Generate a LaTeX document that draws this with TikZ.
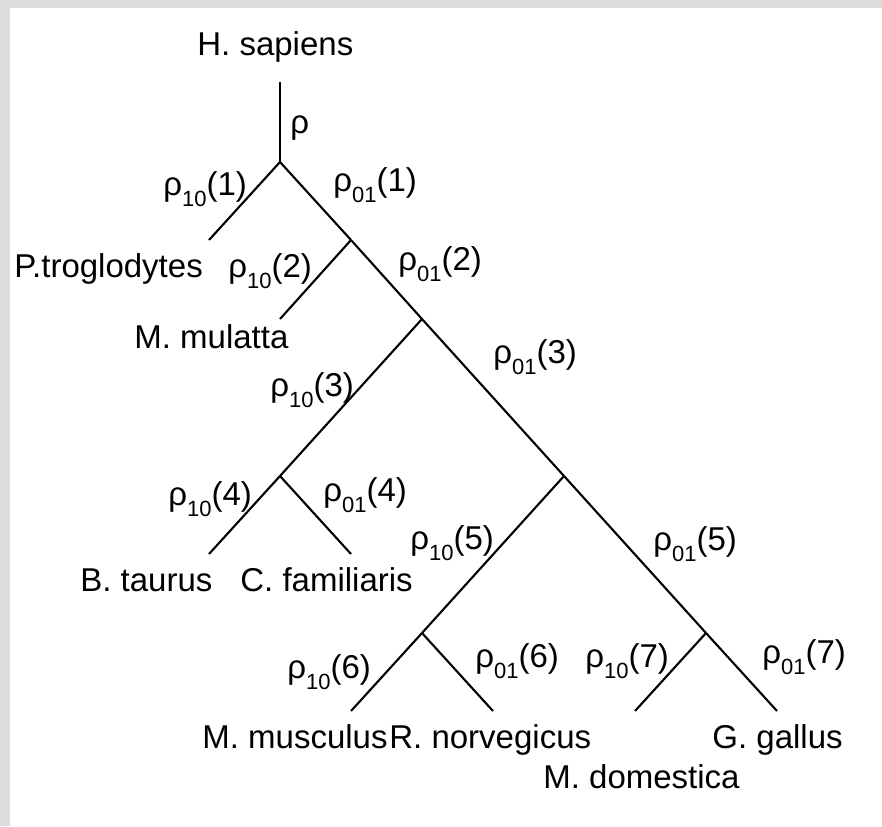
\documentclass[tikz,border=0pt]{standalone}
\usepackage{fontspec}
\setmainfont{Liberation Sans}
\usetikzlibrary{positioning}
\definecolor{framegray}{RGB}{220,220,220}
\newcommand{\rlab}[2]{ρ\raisebox{-5.5pt}{\fontsize{11}{13}\selectfont #1}(#2)}

\begin{document}
\begin{tikzpicture}[
      x=0.5pt, y=-0.5pt,
      branch/.style={line width=1.05pt},
      taxon/.style={anchor=base west, inner sep=0pt, font=\fontsize{16.5}{20}\selectfont},
      rate/.style={anchor=base west, inner sep=0pt, font=\fontsize{16.5}{20}\selectfont}
    ]
    \fill[framegray] (0,0) rectangle (882,826);
    \fill[white] (10,8) rectangle (882,826);

    \coordinate (top) at (280,82);
    \coordinate (n1) at (280,162);
    \coordinate (ptro) at (209,240);
    \coordinate (n2) at (351,240);
    \coordinate (mmul) at (280,319);
    \coordinate (n3) at (422,319);
    \coordinate (n4) at (280,476);
    \coordinate (btau) at (209,554);
    \coordinate (cfam) at (351,554);
    \coordinate (n5) at (564,476);
    \coordinate (n6) at (422,633);
    \coordinate (mmus) at (351,711);
    \coordinate (rnor) at (493,711);
    \coordinate (n7) at (706,633);
    \coordinate (mdom) at (635,711);
    \coordinate (ggal) at (777,711);

    \draw[branch] (top) -- (n1);
    \draw[branch] (n1) -- (ptro);
    \draw[branch] (n1) -- (n2);
    \draw[branch] (n2) -- (mmul);
    \draw[branch] (n2) -- (n3);
    \draw[branch] (n3) -- (n4);
    \draw[branch] (n3) -- (n5);
    \draw[branch] (n4) -- (btau);
    \draw[branch] (n4) -- (cfam);
    \draw[branch] (n5) -- (n6);
    \draw[branch] (n5) -- (n7);
    \draw[branch] (n6) -- (mmus);
    \draw[branch] (n6) -- (rnor);
    \draw[branch] (n7) -- (mdom);
    \draw[branch] (n7) -- (ggal);

    \node[taxon] (hsap) at (197,55) {H. sapiens};
    \node[taxon] (ptrolabel) at (14,277) {P.troglodytes};
    \node[taxon] (mmullabel) at (134,348) {M. mulatta};
    \node[taxon] (btaulabel) at (80,591) {B. taurus};
    \node[taxon] (cfamlabel) at (240,591) {C. familiaris};
    \node[taxon] (mmuslabel) at (202,748) {M. musculus};
    \node[taxon] (rnorlabel) at (389,748) {R. norvegicus};
    \node[taxon] (ggallabel) at (712,748) {G. gallus};
    \node[taxon] (mdomlabel) at (543,788) {M. domestica};

    \node[rate] (r0) at (290,133) {ρ};
    \node[rate] (r10a) at (163,195) {\rlab{10}{1}};
    \node[rate] (r01a) at (333,191) {\rlab{01}{1}};
    \node[rate] (r10b) at (228,277) {\rlab{10}{2}};
    \node[rate] (r01b) at (398,270) {\rlab{01}{2}};
    \node[rate] (r10c) at (270,396) {\rlab{10}{3}};
    \node[rate] (r01c) at (493,363) {\rlab{01}{3}};
    \node[rate] (r10d) at (168,505) {\rlab{10}{4}};
    \node[rate] (r01d) at (323,501) {\rlab{01}{4}};
    \node[rate] (r10e) at (410,549) {\rlab{10}{5}};
    \node[rate] (r01e) at (653,550) {\rlab{01}{5}};
    \node[rate] (r10f) at (287,678) {\rlab{10}{6}};
    \node[rate] (r01f) at (475,667) {\rlab{01}{6}};
    \node[rate] (r10g) at (585,667) {\rlab{10}{7}};
    \node[rate] (r01g) at (762,663) {\rlab{01}{7}};
  \end{tikzpicture}
\end{document}
